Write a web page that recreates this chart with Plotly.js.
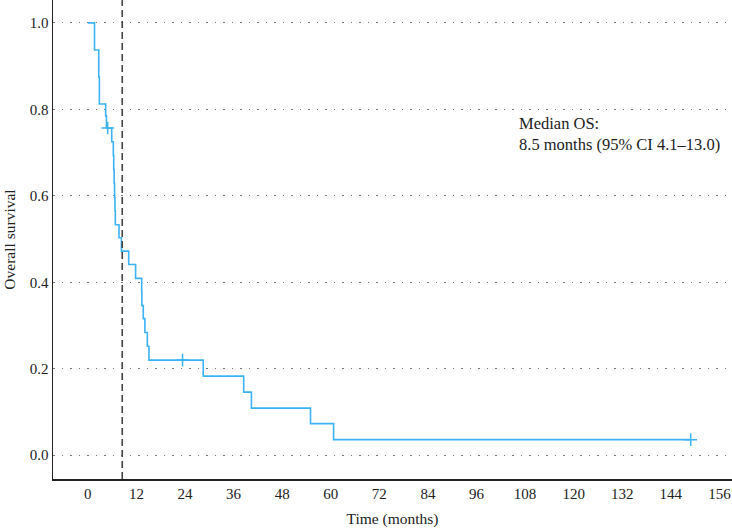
<!DOCTYPE html>
<html>
<head>
<meta charset="utf-8">
<script src="https://cdn.plot.ly/plotly-3.0.1.min.js"></script>
<style>html,body{margin:0;padding:0;background:#fff;}#chart{width:732px;height:529px;}</style>
</head>
<body>
<div id="chart"></div>
<script>
// Kaplan–Meier step data
const timeMonths = [0, 1.65, 2.7, 2.85, 4.4, 4.6, 5.9, 6.3, 6.4, 6.5, 6.6, 6.7, 6.8, 7.7, 8.3, 10.1, 11.8, 13.3, 13.35, 13.7, 14.1, 14.7, 15.1, 28.5, 38.5, 40.4, 55.0, 60.7, 148.9];
const survival   = [1.0, 0.9375, 0.875, 0.8125, 0.785, 0.757, 0.725, 0.693, 0.661, 0.629, 0.597, 0.565, 0.533, 0.503, 0.472, 0.441, 0.409, 0.378, 0.346, 0.316, 0.284, 0.252, 0.220, 0.183, 0.146, 0.109, 0.073, 0.036, 0.036];
const censorTime = [4.9, 23.4, 148.9];
const censorSurv = [0.757, 0.220, 0.036];
const medianOS = 8.5;
const xTicks = [0, 12, 24, 36, 48, 60, 72, 84, 96, 108, 120, 132, 144, 156];
const yTicks = [0.0, 0.2, 0.4, 0.6, 0.8, 1.0];
const yTickLabels = ['0.0', '0.2', '0.4', '0.6', '0.8', '1.0'];
const annotationText = 'Median OS:<br>8.5 months (95% CI 4.1–13.0)';

const blue = '#3db2f5';
const font = 'Liberation Serif, Times New Roman, serif';

const traces = [
  {x: timeMonths, y: survival, type: 'scatter', mode: 'lines',
   line: {shape: 'hv', color: blue, width: 1.6}, hoverinfo: 'skip'},
  {x: censorTime, y: censorSurv, type: 'scatter', mode: 'markers',
   marker: {symbol: 'cross-thin', size: 9, line: {color: blue, width: 1.5}}, hoverinfo: 'skip'}
];

const layout = {
  width: 732, height: 529,
  margin: {l: 53, r: 0, t: 0, b: 50},
  paper_bgcolor: '#fff', plot_bgcolor: '#fff',
  showlegend: false,
  font: {family: font, size: 15, color: '#222'},
  xaxis: {
    range: [-8.6, 159.1], tickvals: xTicks, ticktext: xTicks.map(String),
    showgrid: false, zeroline: false, showline: true, linecolor: '#222', linewidth: 1.5,
    ticks: '', tickfont: {family: font, size: 15, color: '#222'},
    title: {text: 'Time (months)', font: {family: font, size: 15.5, color: '#222'}, standoff: 12}
  },
  yaxis: {
    range: [-0.055, 1.053], tickvals: yTicks, ticktext: yTickLabels,
    showgrid: true, gridcolor: '#777', gridwidth: 1, griddash: '1.5px,7px',
    zeroline: false, showline: true, linecolor: '#222', linewidth: 1.5,
    ticks: '', tickfont: {family: font, size: 15, color: '#222'},
    title: {text: 'Overall survival', font: {family: font, size: 15.5, color: '#222'}, standoff: 10}
  },
  shapes: [
    {type: 'line', xref: 'x', yref: 'paper', x0: medianOS, x1: medianOS, y0: 0, y1: 1,
     line: {color: '#444', width: 1.6, dash: '7px,4px'}}
  ],
  annotations: [
    {x: 106.0, y: 0.795, xref: 'x', yref: 'y', xanchor: 'left', yanchor: 'top', align: 'left',
     showarrow: false, text: annotationText, font: {family: font, size: 16.5, color: '#222'}}
  ]
};

Plotly.newPlot('chart', traces, layout, {displayModeBar: false, staticPlot: true});
</script>
</body>
</html>
